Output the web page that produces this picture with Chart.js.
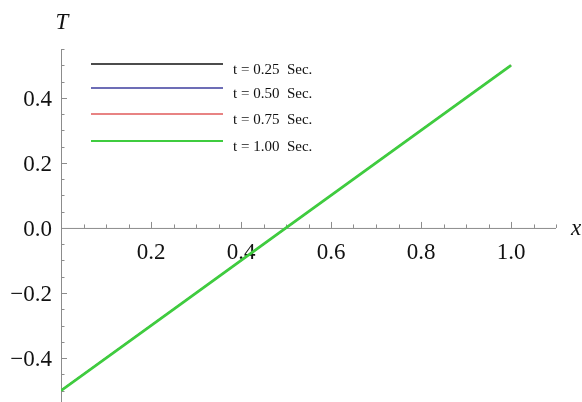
<!DOCTYPE html>
<html>
<head>
<meta charset="utf-8">
<script src="https://cdn.jsdelivr.net/npm/chart.js@4.4.1/dist/chart.umd.min.js"></script>
<style>
  html, body { margin: 0; padding: 0; background: #fff; }
  canvas { display: block; }
</style>
</head>
<body>
<canvas id="tempChart" width="582" height="402"></canvas>
<script>
// T(x) profiles at four times - they coincide
const xs = [0, 0.25, 0.5, 0.75, 1.0];
const tLabels = ["t = 0.25  Sec.", "t = 0.50  Sec.", "t = 0.75  Sec.", "t = 1.00  Sec."];
const T025 = [-0.5, -0.25, 0, 0.25, 0.5];
const T050 = [-0.5, -0.25, 0, 0.25, 0.5];
const T075 = [-0.5, -0.25, 0, 0.25, 0.5];
const T100 = [-0.5, -0.25, 0, 0.25, 0.5];
const colors = ["#111111", "#3d3d9e", "#e05a5a", "#3fcc3f"];

const xMajor = [0.2, 0.4, 0.6, 0.8, 1.0];
const yMajor = [-0.4, -0.2, 0.0, 0.2, 0.4];

const series = [T025, T050, T075, T100];
const datasets = series.map((vals, i) => ({
  label: tLabels[i],
  data: xs.map((x, j) => ({ x: x, y: vals[j] })),
  borderColor: colors[i],
  borderWidth: i === 3 ? 2.8 : 1.2,
  pointRadius: 0,
  fill: false,
  tension: 0,
  order: series.length - i   // later curves painted on top
}));

const serif = '"Liberation Serif", "DejaVu Serif", serif';

// Mathematica-style axes through the origin, ticks, labels and legend
const axesPlugin = {
  id: "axesPlugin",
  beforeDatasetsDraw(chart) {
    const ctx = chart.ctx;
    const xs_ = chart.scales.x, ys_ = chart.scales.y;
    const x0 = xs_.getPixelForValue(0), y0 = ys_.getPixelForValue(0);
    const area = chart.chartArea;
    ctx.save();
    ctx.strokeStyle = "#8c8c8c";
    ctx.lineWidth = 1;
    // axis lines
    ctx.beginPath();
    ctx.moveTo(area.left, y0 + 0.5); ctx.lineTo(area.right, y0 + 0.5);
    ctx.moveTo(x0 + 0.5, area.top); ctx.lineTo(x0 + 0.5, area.bottom);
    ctx.stroke();
    // x ticks every 0.05
    ctx.beginPath();
    for (let k = 1; k <= 22; k++) {
      const v = k * 0.05;
      const px = Math.round(xs_.getPixelForValue(v)) + 0.5;
      const len = (k % 4 === 0) ? 6 : 3.5;
      ctx.moveTo(px, y0); ctx.lineTo(px, y0 - len);
    }
    // y ticks every 0.05
    for (let k = -11; k <= 11; k++) {
      if (k === 0) continue;
      const v = k * 0.05;
      const py = Math.round(ys_.getPixelForValue(v)) + 0.5;
      if (py < area.top - 1 || py > area.bottom) continue;
      const len = (k % 4 === 0) ? 6 : 3.5;
      ctx.moveTo(x0, py); ctx.lineTo(x0 + len, py);
    }
    ctx.stroke();

    ctx.fillStyle = "#111";
    ctx.font = "23px " + serif;
    ctx.textAlign = "center";
    ctx.textBaseline = "middle";
    xMajor.forEach(v => {
      ctx.fillText(v.toFixed(1), xs_.getPixelForValue(v), y0 + 25);
    });
    ctx.textAlign = "right";
    yMajor.forEach(v => {
      const s = v < 0 ? "\u2212" + Math.abs(v).toFixed(1) : v.toFixed(1);
      ctx.fillText(s, x0 - 9, ys_.getPixelForValue(v) + 2);
    });
    // axis names
    ctx.font = "italic 23px " + serif;
    ctx.textAlign = "center";
    ctx.fillText("T", x0 + 1, 23);
    ctx.fillText("x", area.right + 20, y0 + 1);

    // legend
    ctx.font = "15px " + serif;
    ctx.textAlign = "left";
    const legY = [64, 88, 114, 141];
    chart.data.datasets.forEach((ds, i) => {
      ctx.strokeStyle = ds.borderColor;
      ctx.lineWidth = i === 3 ? 2 : 1.4;
      ctx.beginPath();
      ctx.moveTo(91, legY[i]); ctx.lineTo(223, legY[i]);
      ctx.stroke();
      ctx.fillStyle = "#111";
      ctx.fillText(ds.label, 233, legY[i] + 6);
    });
    ctx.restore();
  }
};

new Chart(document.getElementById("tempChart").getContext("2d"), {
  type: "line",
  data: { datasets: datasets },
  options: {
    responsive: false,
    animation: false,
    layout: { padding: { left: 61, right: 26, top: 49, bottom: 0 } },
    plugins: { legend: { display: false }, tooltip: { enabled: false } },
    scales: {
      x: { type: "linear", min: 0, max: 1.1, display: false },
      y: { type: "linear", min: -0.535, max: 0.55, display: false }
    }
  },
  plugins: [axesPlugin]
});
</script>
</body>
</html>
